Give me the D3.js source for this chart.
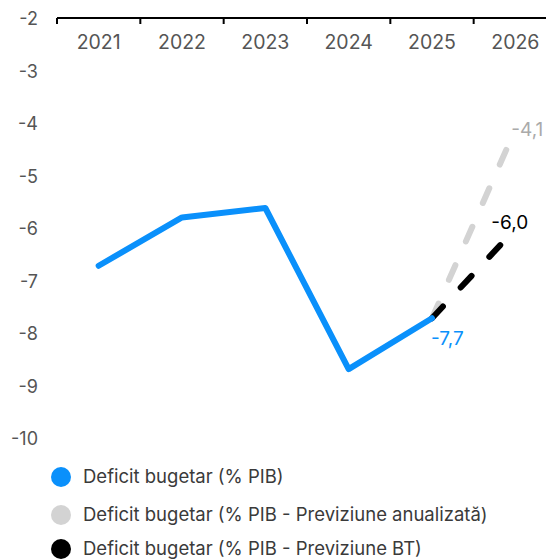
<!DOCTYPE html>
<html>
<head>
<meta charset="utf-8">
<script src="https://cdn.jsdelivr.net/npm/d3@7"></script>
<style>
  body { margin: 0; background: #fff; font-family: Inter, "Noto Sans", sans-serif; }
</style>
</head>
<body>
<div id="chart"></div>
<script>
var years = ["2021","2022","2023","2024","2025","2026"];
var deficit = [-6.7, -5.78, -5.6, -8.67, -7.7];
var forecastYears = ["2025","2026"];
var forecastAnnual = [-7.7, -4.1];
var forecastBT = [-7.7, -6.0];
var yTicks = [-2,-3,-4,-5,-6,-7,-8,-9,-10];
var legendLabels = ["Deficit bugetar (% PIB)","Deficit bugetar (% PIB - Previziune anualizată)","Deficit bugetar (% PIB - Previziune BT)"];
var colors = ["#0a90fb","#d3d3d3","#000000"];

var width = 546, height = 560;

var svg = d3.select("#chart")
  .append("svg")
  .attr("width", width)
  .attr("height", height);

var y = d3.scaleLinear().domain([-2, -10]).range([19, 439]);
var xb = d3.scaleBand().domain(years).range([57, 557]);
function xc(d) { return xb(d) + xb.bandwidth() / 2; }

// y tick labels
svg.append("g").selectAll("text").data(yTicks)
  .enter().append("text")
  .attr("x", 38)
  .attr("y", function(d) { return y(d); })
  .attr("dy", "0.35em")
  .style("text-anchor", "end")
  .style("fill", "#555")
  .style("font-size", 18)
  .text(function(d) { return d; });

// x axis at the top
var axis = svg.append("g");
axis.append("line")
  .attr("x1", 57).attr("x2", width)
  .attr("y1", y(-2) - 1).attr("y2", y(-2) - 1)
  .attr("stroke", "#000").attr("stroke-width", 2);
axis.selectAll(".tick").data(years)
  .enter().append("line")
  .attr("x1", function(d) { return xb(d); })
  .attr("x2", function(d) { return xb(d); })
  .attr("y1", y(-2) - 1).attr("y2", y(-2) + 5)
  .attr("stroke", "#000").attr("stroke-width", 2);
axis.selectAll("text").data(years)
  .enter().append("text")
  .attr("x", xc)
  .attr("y", 49)
  .style("text-anchor", "middle")
  .style("fill", "#555")
  .style("font-size", 19.5)
  .text(function(d) { return d; });

var line = d3.line()
  .x(function(d) { return xc(d[0]); })
  .y(function(d) { return y(d[1]); });

svg.append("path")
  .datum(d3.zip(forecastYears, forecastAnnual))
  .attr("d", line)
  .attr("fill", "none")
  .attr("stroke", colors[1])
  .attr("stroke-width", 6)
  .attr("stroke-linecap", "round")
  .attr("stroke-dasharray", "16,26");

svg.append("path")
  .datum(d3.zip(forecastYears, forecastBT))
  .attr("d", line)
  .attr("fill", "none")
  .attr("stroke", colors[2])
  .attr("stroke-width", 6)
  .attr("stroke-linecap", "round")
  .attr("stroke-dasharray", "16,26");

svg.append("path")
  .datum(d3.zip(years.slice(0, 5), deficit))
  .attr("d", line)
  .attr("fill", "none")
  .attr("stroke", colors[0])
  .attr("stroke-width", 6)
  .attr("stroke-linecap", "round")
  .attr("stroke-linejoin", "round");

function fmt(v) { return d3.format(".1f")(v).replace(".", ",").replace("−", "-"); }

svg.append("text")
  .attr("x", xc("2025") - 1).attr("y", y(-7.7) + 27)
  .style("fill", colors[0]).style("font-size", 19)
  .text(fmt(-7.7));
svg.append("text")
  .attr("x", xc("2026") - 24).attr("y", y(-6.0))
  .style("fill", "#000").style("font-size", 19)
  .text(fmt(-6.0));
svg.append("text")
  .attr("x", xc("2026") - 4).attr("y", y(-4.1) + 7)
  .style("fill", "#aaa").style("font-size", 19)
  .text(fmt(-4.1));

// legend
var legend = svg.append("g");
legend.selectAll("g").data(legendLabels)
  .enter().append("g")
  .each(function(d, i) {
    var g = d3.select(this);
    var ly = [477, 515, 549][i];
    g.append("circle")
      .attr("cx", 61).attr("cy", ly).attr("r", 10)
      .style("fill", colors[i]);
    g.append("text")
      .attr("x", 83).attr("y", ly)
      .attr("dy", "0.35em")
      .style("fill", "#3a3a3a")
      .style("font-size", 18.5)
      .text(d);
  });
</script>
</body>
</html>
